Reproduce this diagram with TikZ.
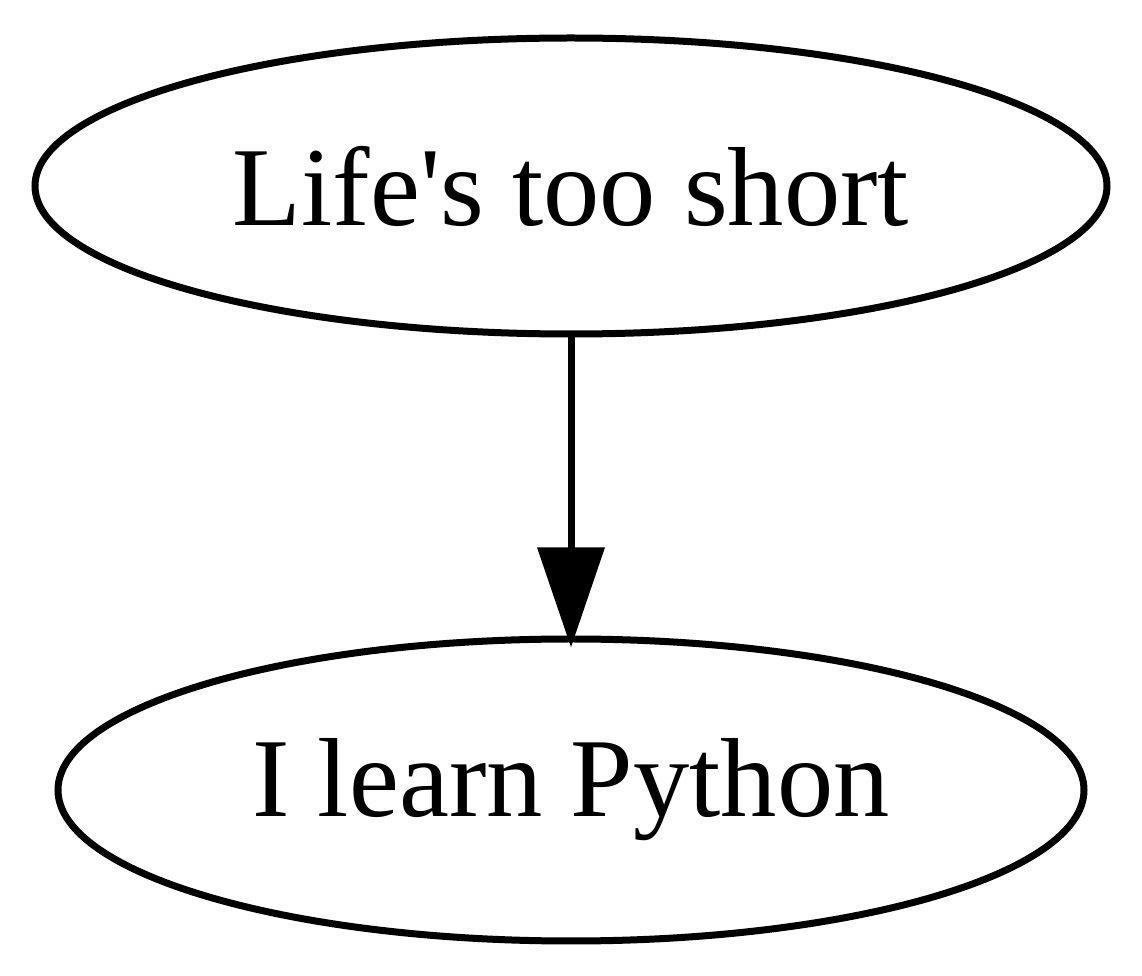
\documentclass[tikz,border=0pt]{standalone}
\usepackage{fontspec}
\setmainfont{Liberation Serif}
\usetikzlibrary{arrows.meta,positioning,shapes.geometric}
\tikzset{
  flowarr/.style={-{Triangle[length=10mm, width=6.6mm]}, line width=0.7mm, draw=black, shorten >=-1.2mm},
  flownode/.style={draw, ellipse, line width=0.7mm, inner sep=0pt},
}
\begin{document}
\begin{tikzpicture}[
  font=\fontsize{32}{38}\selectfont,
]
  \useasboundingbox (0,0) rectangle (11.42,-9.76);

  % Nodes
  \node[flownode, minimum width=10.72cm, minimum height=2.96cm] (short) at (5.71,-1.86) {Life\textquotesingle s too short};
  \node[flownode, minimum width=10.26cm, minimum height=3.02cm] (python) at (5.71,-7.90) {I learn Python};

  \draw[flowarr] (short) -- (python);

\end{tikzpicture}
\end{document}
